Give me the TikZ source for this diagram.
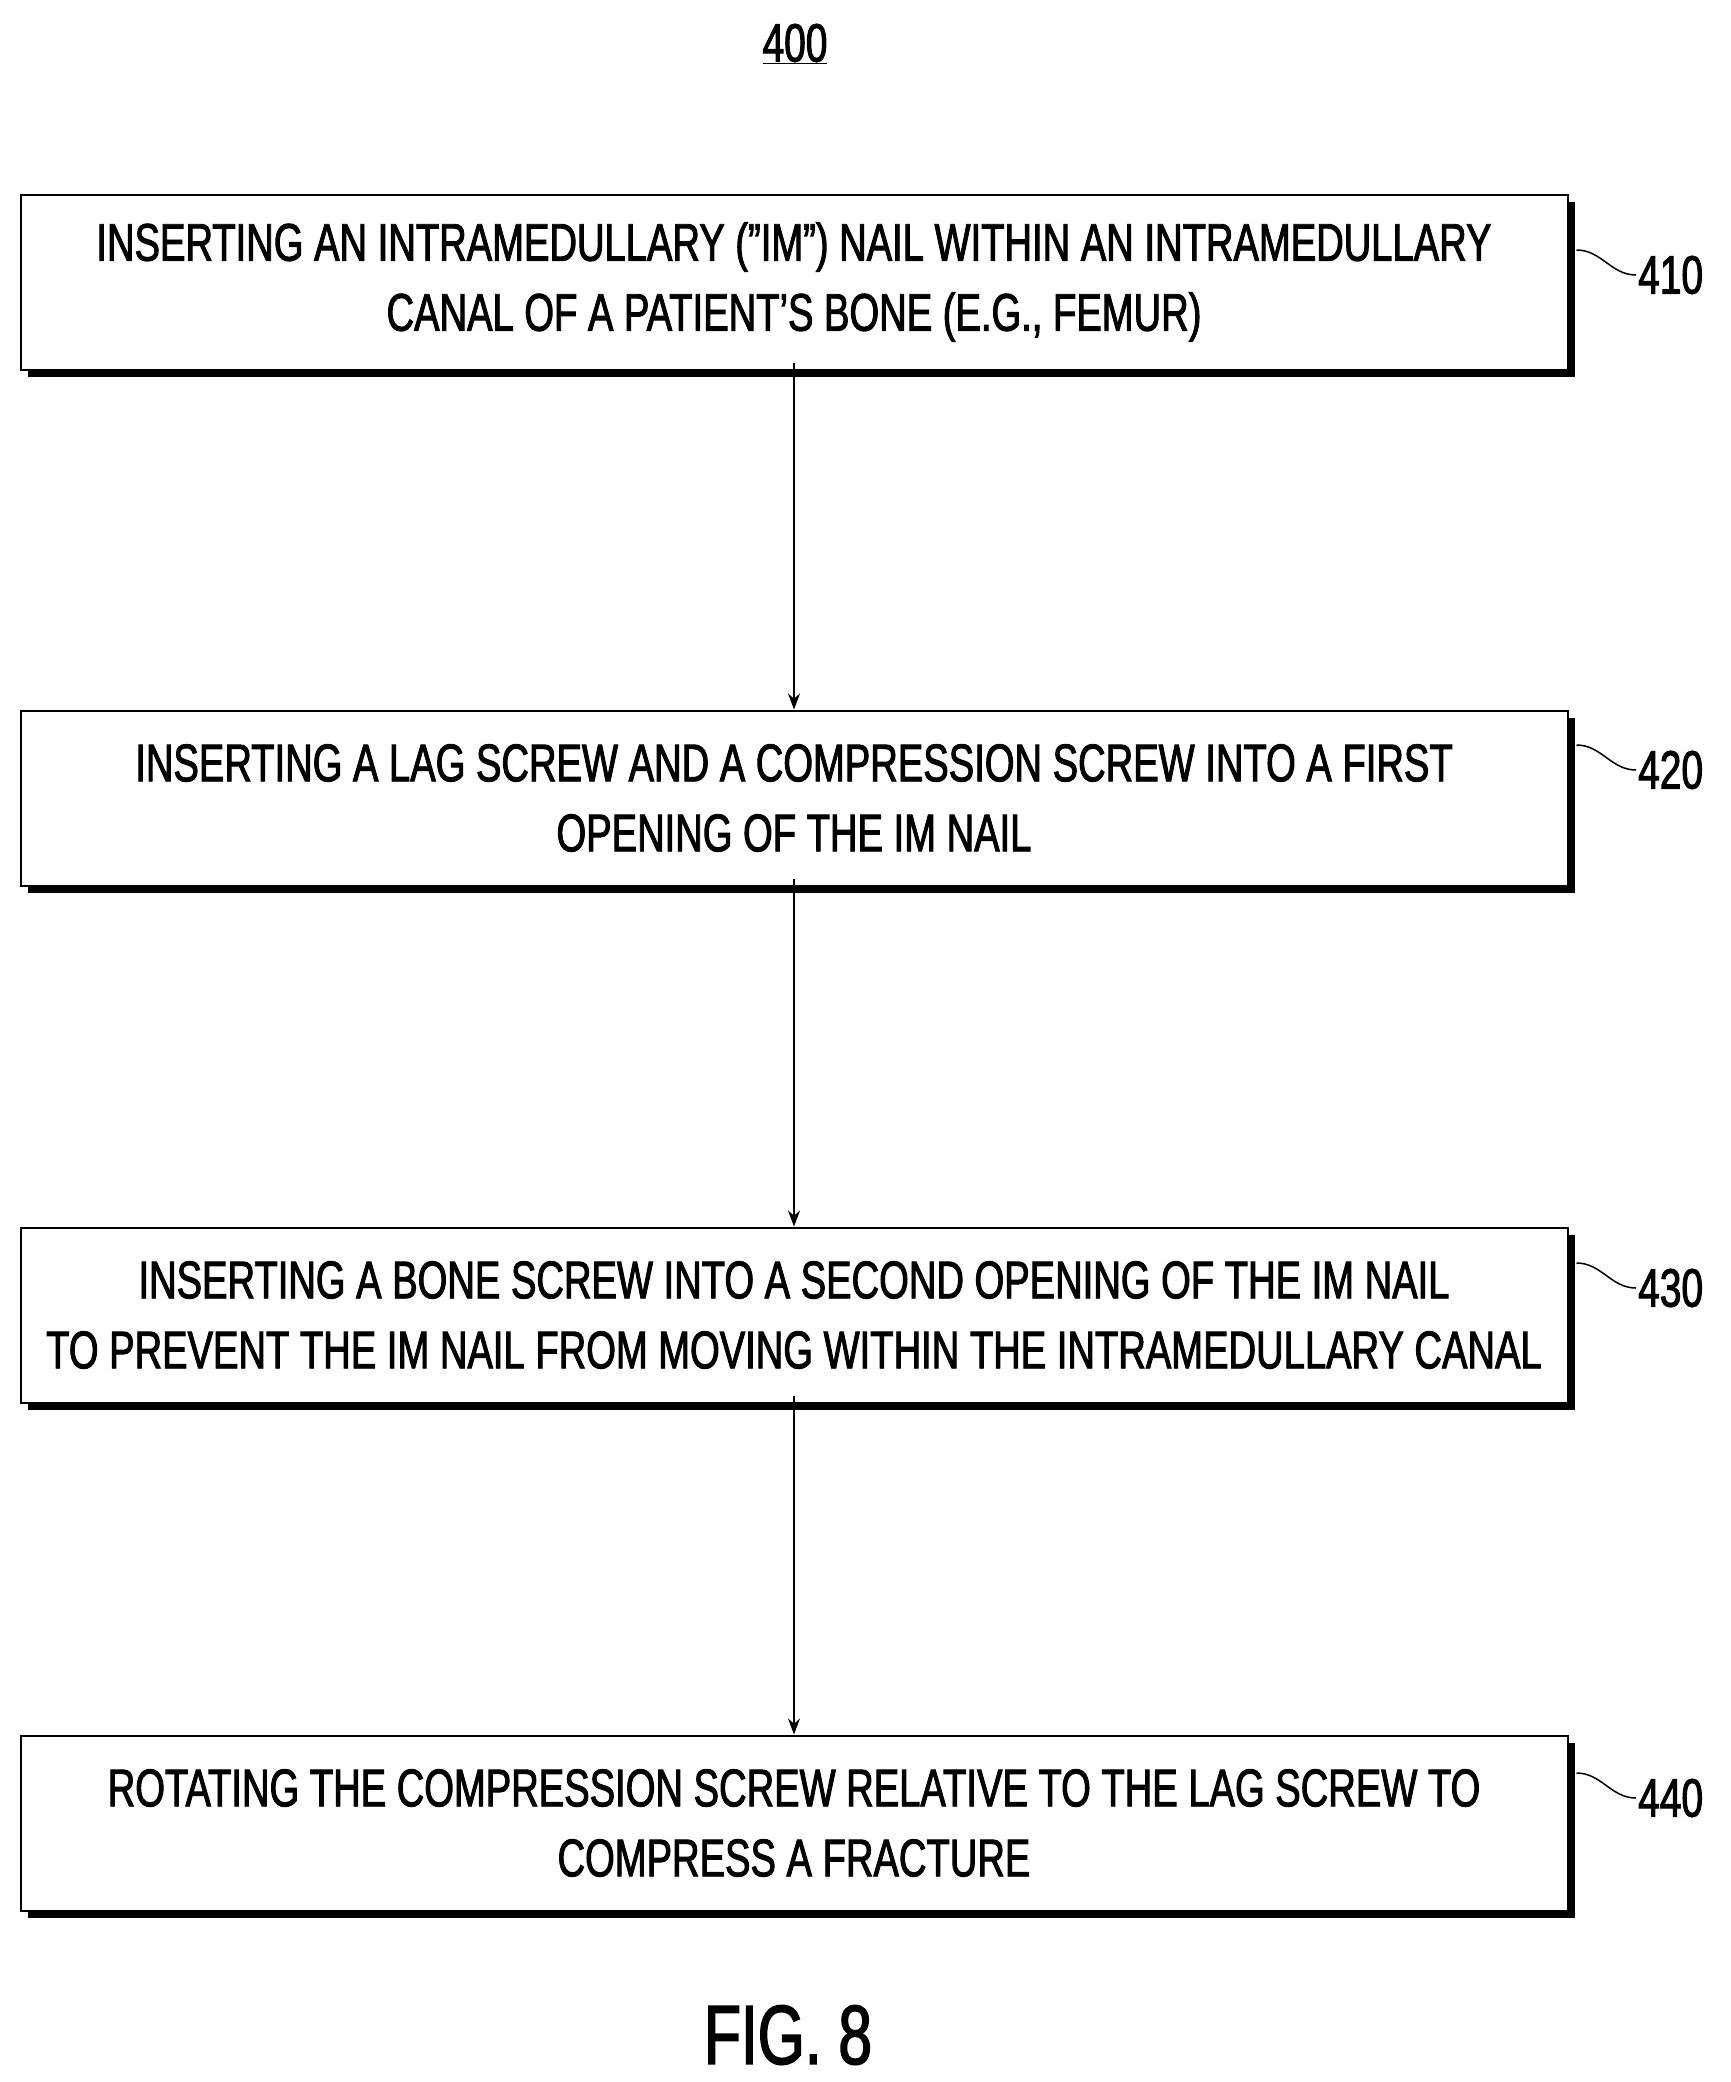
\documentclass[tikz,border=0pt]{standalone}
\usepackage{fontspec}
\setmainfont{Liberation Sans}[FakeStretch=0.72,FakeBold=1.8]
\usetikzlibrary{arrows.meta}
\begin{document}
\begin{tikzpicture}[x=1pt,y=-1pt,
 box/.style={draw,line width=2pt,fill=white,minimum width=1547pt,minimum height=175pt,align=center,font=\fontsize{53}{70}\selectfont,inner sep=0pt},
 lab/.style={font=\fontsize{54}{60}\selectfont,anchor=west,inner sep=2pt},
 arr/.style={-{Stealth[length=16pt,width=12pt]},line width=1.5pt}]
\useasboundingbox (0,0) rectangle (1731,2082);
\node[font=\fontsize{54}{60}\selectfont] (t) at (795,44) {\underline{400}};
\foreach \y in {282,798,1315,1823}{
 \fill (28,\y-80) rectangle (1575,\y+95);}
\node[box] (a) at (794,282) {INSERTING AN INTRAMEDULLARY (”IM”) NAIL WITHIN AN INTRAMEDULLARY\\CANAL OF A PATIENT’S BONE (E.G., FEMUR)};
\node[box] (b) at (794,798) {INSERTING A LAG SCREW AND A COMPRESSION SCREW INTO A FIRST\\OPENING OF THE IM NAIL};
\node[box] (c) at (794,1315) {INSERTING A BONE SCREW INTO A SECOND OPENING OF THE IM NAIL\\TO PREVENT THE IM NAIL FROM MOVING WITHIN THE INTRAMEDULLARY CANAL};
\node[box] (d) at (794,1823) {ROTATING THE COMPRESSION SCREW RELATIVE TO THE LAG SCREW TO\\COMPRESS A FRACTURE};
\draw[arr] ([yshift=8pt]a.south) -- (b.north);
\draw[arr] ([yshift=8pt]b.south) -- (c.north);
\draw[arr] ([yshift=8pt]c.south) -- (d.north);
\foreach \n/\t/\y in {la/410/275,lb/420/770,lc/430/1288,ld/440/1798}{
 \node[lab] (\n) at (1636,\y) {\t};}
\foreach \n/\m in {a/la,b/lb,c/lc,d/ld}{
 \draw[line width=1.5pt] ([xshift=8pt,yshift=25pt]\m.west-|\n.east) .. controls +(25,0) and +(-25,0) .. (\m.west);}
\node[font=\fontsize{84}{90}\selectfont] (f) at (788,2035) {FIG. 8};
\end{tikzpicture}
\end{document}
